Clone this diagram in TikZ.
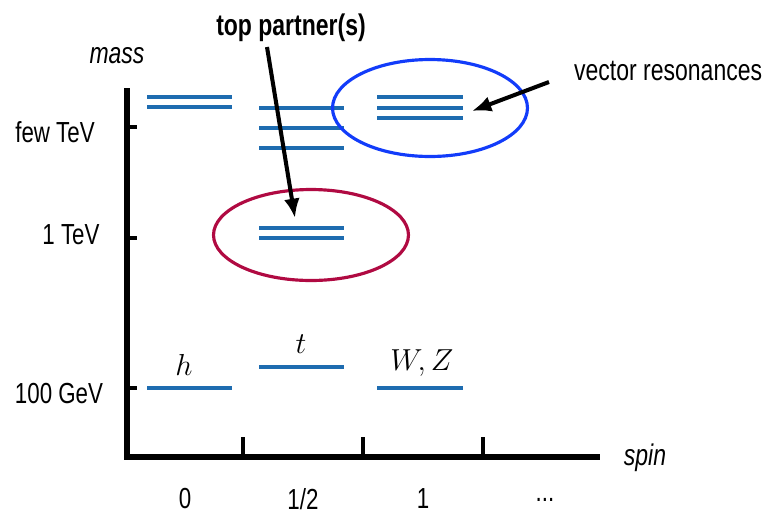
\documentclass[tikz,border=0pt]{standalone}
\usepackage[no-math]{fontspec}
\setmainfont[FakeStretch=0.77]{Liberation Sans}
\usepackage{amsmath}
\usetikzlibrary{arrows.meta,shapes.geometric}

\definecolor{levelblue}{RGB}{30,108,176}
\definecolor{ringblue}{RGB}{18,60,250}
\definecolor{ringred}{RGB}{176,10,66}

\begin{document}
\begin{tikzpicture}[x=0.02cm, y=-0.02cm, >=Latex,
  axis/.style={line width=3.6pt},
  tick/.style={line width=1.8pt},
  level/.style={levelblue, line width=1.8pt},
  ring/.style={draw=#1, line width=1.8pt, ellipse, inner sep=0pt},
  pointer/.style={->, >={Latex[length=11pt,width=9pt]}, line width=2.3pt},
  lab/.style={font=\fontsize{16.5}{18}\selectfont},
  particle/.style={font=\fontsize{18}{20}\selectfont, anchor=base}]
  \useasboundingbox (0,0) rectangle (765,515);

  % axes
  \coordinate (origin) at (127,457);
  \coordinate (ytop) at (127,88);
  \coordinate (xend) at (600,457);
  \draw[axis] (ytop) -- (origin) -- (xend);
  \node[lab, font=\fontsize{17}{19}\selectfont\itshape, anchor=base] (masslab) at (117,63) {mass};
  \node[lab, font=\fontsize{17}{19}\selectfont\itshape, anchor=base] (spinlab) at (645,465) {spin};

  % mass ticks
  \draw[tick] (127,127) -- (137,127);
  \draw[tick] (127,238) -- (137,238);
  \draw[tick] (127,388) -- (137,388);
  \node[lab] (fewtev) at (55,132) {few TeV};
  \node[lab] (onetev) at (71,235) {1 TeV};
  \node[lab] (hundgev) at (59,394) {100 GeV};

  % spin ticks
  \foreach \x in {243,363,483}
    \draw[tick] (\x,457) -- (\x,437);
  \node[lab] (spin0) at (185,499) {0};
  \node[lab] (spinhalf) at (303,499) {1/2};
  \node[lab] (spin1) at (423,499) {1};
  \node[lab] (spindots) at (545,500) {...};

  % spin 0
  \foreach \y in {97,107,388}
    \draw[level] (147,\y) -- (232,\y);
  % spin 1/2
  \foreach \y in {108,128,148,228,238,367}
    \draw[level] (259,\y) -- (344,\y);
  % spin 1
  \foreach \y in {97,108,118,388}
    \draw[level] (377,\y) -- (463,\y);

  \node[particle] (higgs) at (184,375) {$h$};
  \node[particle] (top) at (301,353) {$t$};
  \node[particle] (wz) at (422,370) {$W,Z$};

  % circled groups
  \node[ring=ringblue, minimum width=3.9cm, minimum height=1.94cm] (vecring) at (430,108) {};
  \node[ring=ringred, minimum width=3.9cm, minimum height=1.82cm] (topring) at (311,235) {};

  % labels with arrows
  \node[font=\fontsize{17}{19}\selectfont\bfseries, anchor=base] (toplab) at (291,35) {top partner(s)};
  \node[lab, font=\fontsize{17}{19}\selectfont, anchor=base west] (veclab) at (568,80) {vector resonances};
  \coordinate (toptail) at (267,47);
  \coordinate (toptip) at (295,218);
  \coordinate (vectail) at (549,82);
  \coordinate (vectip) at (472,111);
  \draw[pointer] (toptail) -- (toptip);
  \draw[pointer] (vectail) -- (vectip);
\end{tikzpicture}
\end{document}
